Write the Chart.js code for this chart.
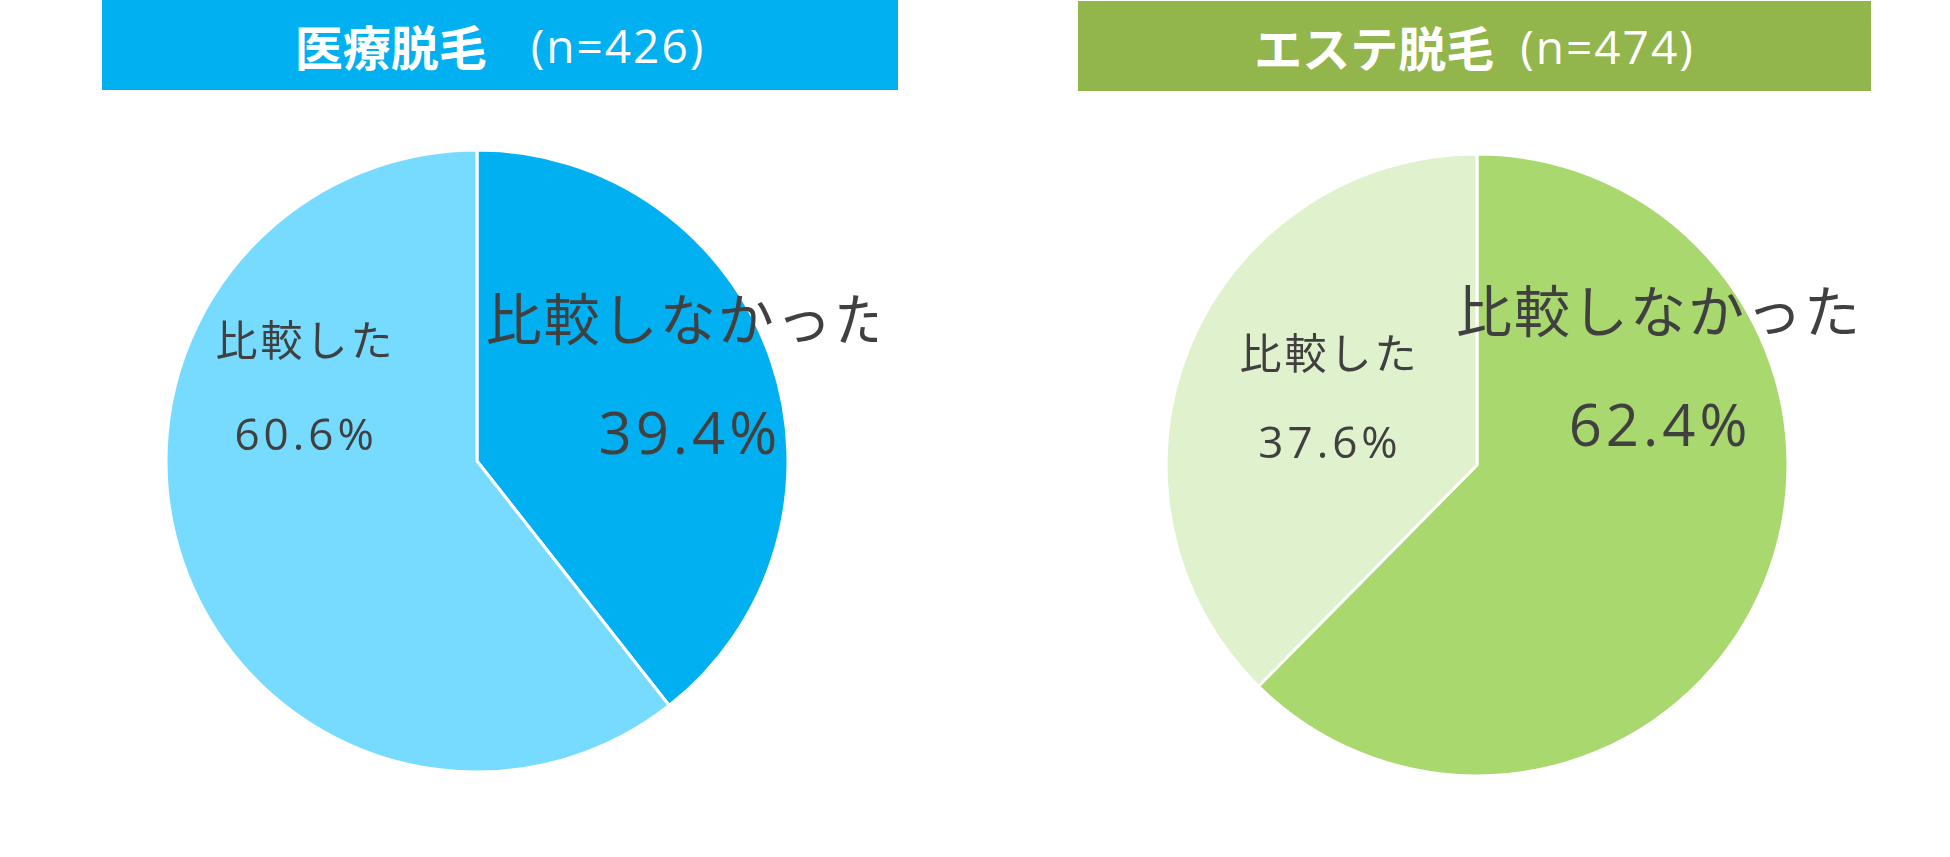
<!DOCTYPE html>
<html lang="ja">
<head>
<meta charset="utf-8">
<script src="https://cdn.jsdelivr.net/npm/chart.js@4.4.1/dist/chart.umd.min.js"></script>
<style>
  html, body { margin: 0; padding: 0; background: #fff; }
  body { width: 1950px; height: 857px; position: relative; overflow: hidden;
         font-family: "Noto Sans CJK JP", "Noto Sans", sans-serif; }
  .head { position: absolute; height: 90px; color: #fff; font-size: 46px;
          display: flex; align-items: center; justify-content: center; white-space: pre; }
  .head b { font-weight: 700; font-size: 48px; }
  .head span { font-weight: 400; font-family: "Open Sans", "Noto Sans CJK JP", sans-serif; letter-spacing: 2px; }
  .box { position: absolute; width: 800px; height: 760px; }
</style>
</head>
<body>
<div class="head" id="head1" style="left:102px; top:0; width:796px; background:#00b0f0;"></div>
<div class="head" id="head2" style="left:1078px; top:1px; width:793px; background:#92b64c;"></div>
<div class="box" style="left:77px; top:81px;"><canvas id="iryo"></canvas></div>
<div class="box" style="left:1077px; top:85px;"><canvas id="este"></canvas></div>
<script>
// data
const categories = ['比較しなかった', '比較した'];
const iryoValues = [39.4, 60.6];
const esteValues = [62.4, 37.6];
const panelTitles = ['医療脱毛', 'エステ脱毛'];
const panelN = [426, 474];

document.getElementById('head1').innerHTML = '<b>' + panelTitles[0] + '</b><span style="margin-left:44px">(n=' + panelN[0] + ')</span>';
document.getElementById('head2').innerHTML = '<b>' + panelTitles[1] + '</b><span style="margin-left:26px">(n=' + panelN[1] + ')</span>';

// labels placed relative to the pie centre, in fractions of the radius
const pieLabels = {
  id: 'pieLabels',
  afterDatasetsDraw(chart, args, opts) {
    const ctx = chart.ctx;
    const meta = chart.getDatasetMeta(0);
    const vals = chart.data.datasets[0].data;
    meta.data.forEach((arc, i) => {
      const p = opts.pos[i];
      const r = arc.outerRadius;
      const cx = arc.x + p.fx * r;
      const cy = arc.y + p.fy * r;
      ctx.save();
      ctx.fillStyle = '#404040';
      ctx.textAlign = 'center';
      ctx.textBaseline = 'middle';
      ctx.letterSpacing = p.ls + 'px';
      ctx.font = '400 ' + p.size + 'px "Noto Sans CJK JP", sans-serif';
      ctx.fillText(chart.data.labels[i], cx + p.ls / 2, cy - p.gap / 2);
      ctx.letterSpacing = p.numLs + 'px';
      ctx.font = '400 ' + p.numSize + 'px "Open Sans", "Noto Sans CJK JP", sans-serif';
      ctx.fillText(vals[i].toFixed(1) + '%', cx + p.numLs / 2, cy + p.gap / 2);
      ctx.restore();
    });
  }
};

function makePie(id, values, colors, pos) {
  new Chart(document.getElementById(id), {
    type: 'pie',
    data: {
      labels: categories,
      datasets: [{
        data: values,
        backgroundColor: colors,
        borderColor: '#ffffff',
        borderWidth: 3,
        radius: 311
      }]
    },
    options: {
      responsive: true,
      maintainAspectRatio: false,
      animation: false,
      layout: { padding: 0 },
      plugins: {
        legend: { display: false },
        tooltip: { enabled: false },
        pieLabels: { pos: pos }
      }
    },
    plugins: [pieLabels]
  });
}

makePie('iryo', iryoValues, ['#00b0f0', '#77dbff'], [
  { fx: 0.678, fy: -0.267, gap: 119, size: 56, ls: 2, numSize: 58, numLs: 4 },
  { fx: -0.556, fy: -0.233, gap: 97, size: 42, ls: 3, numSize: 44, numLs: 4 }
]);
makePie('este', esteValues, ['#a8d86e', '#dff1cd'], [
  { fx: 0.582, fy: -0.305, gap: 118, size: 56, ls: 2, numSize: 58, numLs: 4 },
  { fx: -0.479, fy: -0.212, gap: 92, size: 42, ls: 3, numSize: 44, numLs: 4 }
]);
</script>
</body>
</html>
